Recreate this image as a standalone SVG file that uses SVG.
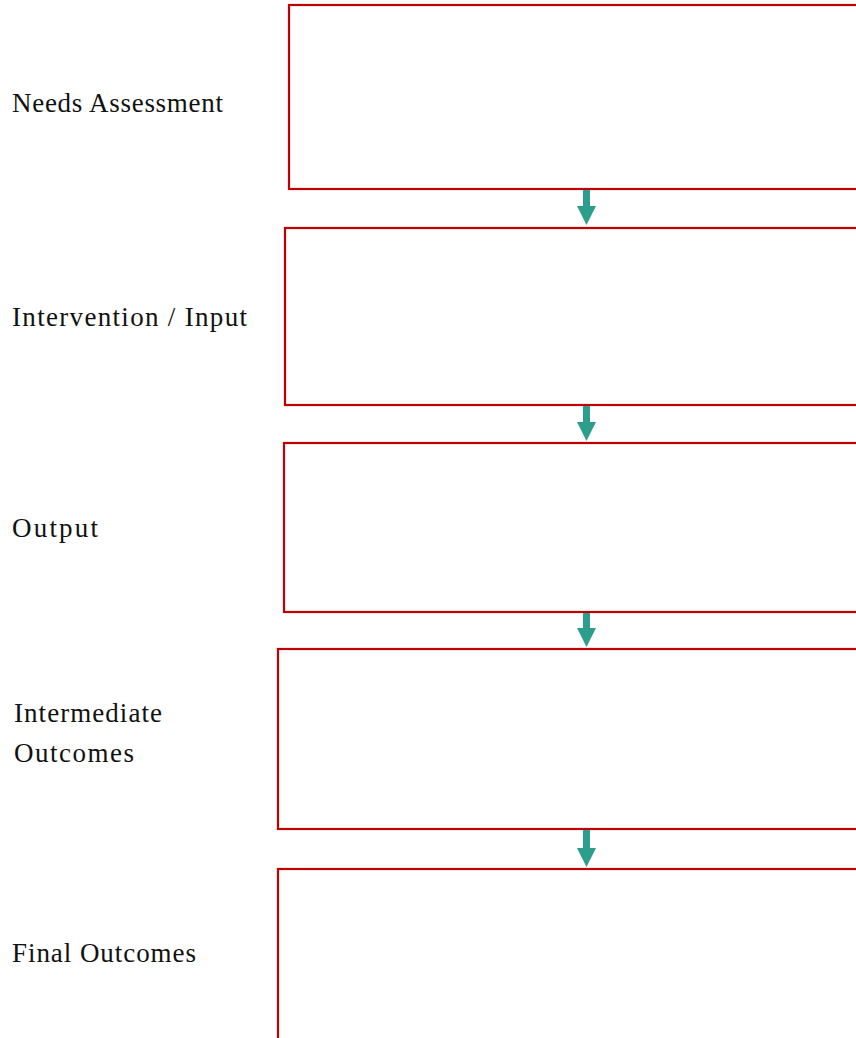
<svg xmlns="http://www.w3.org/2000/svg" width="856" height="1038" viewBox="0 0 856 1038">
<defs>
<style>
.box{fill:none;stroke:#C00000;stroke-width:2.2}
.lbl{font-family:"Liberation Serif","Times New Roman",serif;font-size:27px;fill:#111}
.arr{fill:#2E9E8C}
</style>
</defs>
<rect width="856" height="1038" fill="#fff"/>
<g id="needs">
<rect class="box" x="289" y="5" width="620" height="184"/>
<text class="lbl" x="12" y="112" textLength="211" lengthAdjust="spacing">Needs Assessment</text>
</g>
<g id="intervention">
<rect class="box" x="285" y="228" width="620" height="177"/>
<text class="lbl" x="12" y="326" textLength="235" lengthAdjust="spacing">Intervention / Input</text>
</g>
<g id="output">
<rect class="box" x="284" y="443" width="620" height="169"/>
<text class="lbl" x="12" y="537" textLength="86" lengthAdjust="spacing">Output</text>
</g>
<g id="intermediate">
<rect class="box" x="278" y="649" width="620" height="180"/>
<text class="lbl" x="14" y="722" textLength="148" lengthAdjust="spacing">Intermediate</text>
<text class="lbl" x="14" y="762" textLength="120" lengthAdjust="spacing">Outcomes</text>
</g>
<g id="final">
<rect class="box" x="278" y="869" width="620" height="200"/>
<text class="lbl" x="12" y="962" textLength="184" lengthAdjust="spacing">Final Outcomes</text>
</g>
<g id="connectors">
<path class="arr" d="M583,190 H590 V206 H596 L586.5,225 L577,206 H583 Z"/>
<path class="arr" d="M583,406 H590 V422 H596 L586.5,441 L577,422 H583 Z"/>
<path class="arr" d="M583,613 H590 V628 H596 L586.5,647 L577,628 H583 Z"/>
<path class="arr" d="M583,830 H590 V848 H596 L586.5,867 L577,848 H583 Z"/>
</g>
</svg>
